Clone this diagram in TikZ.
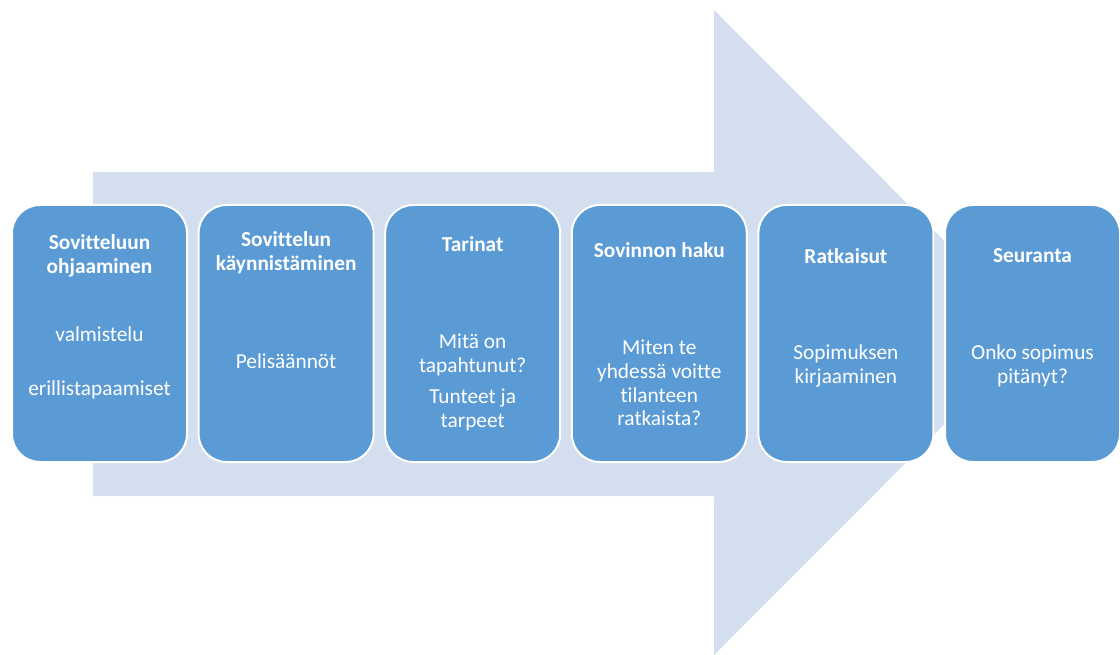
\documentclass[tikz,border=0pt]{standalone}
\usepackage{fontspec}
\setmainfont{Carlito}[Ligatures=NoCommon]
\usetikzlibrary{positioning}

\definecolor{arrowblue}{HTML}{D3DEEF}
\definecolor{boxblue}{HTML}{5B9BD5}

\begin{document}
\begin{tikzpicture}[x=0.75pt, y=-0.75pt,
  stepbox/.style={draw=white, line width=1.5pt, fill=boxblue, rounded corners=21pt,
    minimum width=131.25pt, minimum height=192.75pt, inner sep=0pt},
  steptitle/.style={text=white, align=center, inner sep=0pt, font=\fontsize{16}{18}\selectfont\bfseries},
  steptext/.style={text=white, align=center, inner sep=0pt, font=\fontsize{16}{17.8}\selectfont}]
  \useasboundingbox (0,0) rectangle (1120,655);

  % the big arrow behind the steps
  \fill[arrowblue] (93,172) -- (714,172) -- (714,10) -- (1036,332.5)
    -- (714,655) -- (714,496) -- (93,496) -- cycle;

  % steps
  \node[stepbox] (ohjaus) at (99.5,333.5) {};
  \node[stepbox] (aloitus) at (286.1,333.5) {};
  \node[stepbox] (tarinat) at (472.7,333.5) {};
  \node[stepbox] (haku) at (659.3,333.5) {};
  \node[stepbox] (ratkaisut) at (845.9,333.5) {};
  \node[stepbox] (seuranta) at (1032.5,333.5) {};

  % titles
  \node[steptitle] (ohjaus-t) at (99.5,256) {Sovitteluun\\ohjaaminen};
  \node[steptitle] (aloitus-t) at (286.1,253) {Sovittelun\\käynnistäminen};
  \node[steptitle] (tarinat-t) at (472.7,244) {Tarinat};
  \node[steptitle] (haku-t) at (659.3,250) {Sovinnon haku};
  \node[steptitle] (ratkaisut-t) at (845.9,256) {Ratkaisut};
  \node[steptitle] (seuranta-t) at (1032.5,256) {Seuranta};

  % contents
  \node[steptext] (ohjaus-a) at (99.5,334) {valmistelu};
  \node[steptext] (ohjaus-b) at (99.5,390) {erillistapaamiset};
  \node[steptext] (aloitus-a) at (286.1,361) {Pelisäännöt};
  \node[steptext] (tarinat-a) at (472.7,355) {Mitä on\\tapahtunut?};
  \node[steptext] (tarinat-b) at (472.7,410) {Tunteet ja\\tarpeet};
  \node[steptext] (haku-a) at (659.3,383) {Miten te\\yhdessä voitte\\tilanteen\\ratkaista?};
  \node[steptext] (ratkaisut-a) at (845.9,366) {Sopimuksen\\kirjaaminen};
  \node[steptext] (seuranta-a) at (1032.5,366) {Onko sopimus\\pitänyt?};
\end{tikzpicture}
\end{document}
